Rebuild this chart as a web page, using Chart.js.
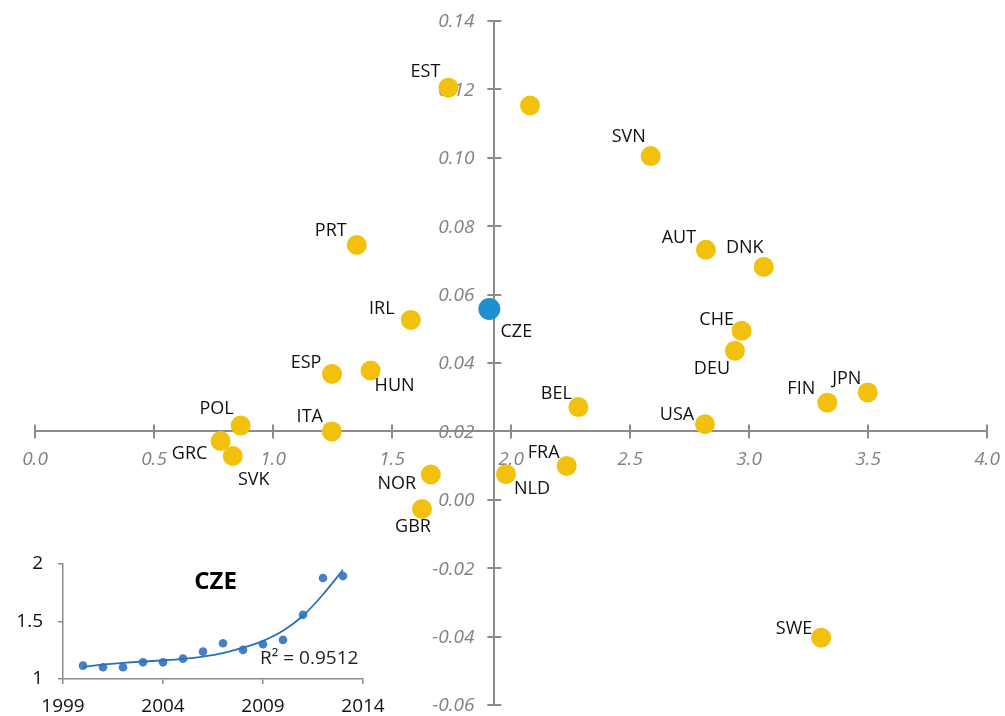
<!DOCTYPE html>
<html>
<head>
<meta charset="utf-8">
<script src="https://cdn.jsdelivr.net/npm/chart.js@4/dist/chart.umd.min.js"></script>
<style>
  html, body { margin: 0; padding: 0; background: #fff; }
  #wrap { position: relative; width: 1005px; height: 716px; overflow: hidden; }
  #main { position: absolute; left: 0; top: 0; }
  #inset { position: absolute; left: 0; top: 540px; }
</style>
</head>
<body>
<div id="wrap">
  <canvas id="main" width="1005" height="716"></canvas>
  <canvas id="inset" width="420" height="176"></canvas>
</div>
<script>
// ---- Country scatter: x and y values per country ----
const countries = ['EST', '', 'SVN', 'AUT', 'DNK', 'CHE', 'DEU', 'FIN', 'JPN', 'USA', 'BEL', 'FRA',
                   'NLD', 'PRT', 'IRL', 'ESP', 'HUN', 'POL', 'ITA', 'GRC', 'SVK', 'NOR', 'GBR', 'SWE'];
const xValues = [1.737, 2.080, 2.587, 2.819, 3.062, 2.969, 2.941, 3.329, 3.499, 2.815, 2.283, 2.234,
                 1.979, 1.352, 1.579, 1.248, 1.410, 0.864, 1.247, 0.780, 0.831, 1.663, 1.626, 3.303];
const yValues = [0.1205, 0.1153, 0.1005, 0.0731, 0.0681, 0.0494, 0.0436, 0.0284, 0.0314, 0.0221, 0.0271, 0.0099,
                 0.0075, 0.0745, 0.0526, 0.0368, 0.0378, 0.0217, 0.0200, 0.0172, 0.0128, 0.0074, -0.0027, -0.0403];

// Highlighted country
const focusName = 'CZE';
const focusX = 1.909;
const focusY = 0.0558;

// Axis ranges and crossing points
const xRange = [0, 4];
const xStep = 0.5;
const yRange = [-0.06, 0.14];
const yStep = 0.02;
const xAxisCrossesAtY = 0.02;
const yAxisCrossesAtX = 1.93;

// ---- CZE inset: yearly series and its trend ----
const czeYears  = [2000, 2001, 2002, 2003, 2004, 2005, 2006, 2007, 2008, 2009, 2010, 2011, 2012, 2013];
const czeValues = [1.116, 1.102, 1.102, 1.145, 1.145, 1.177, 1.238, 1.311, 1.253, 1.302, 1.340, 1.558, 1.878, 1.895];
const czeTrend  = [1.105, 1.125, 1.140, 1.152, 1.162, 1.175, 1.195, 1.225, 1.272, 1.332, 1.420, 1.550, 1.735, 1.950];
const czeRSquared = '0.9512';
const insetYearRange = [1999, 2014];
const insetValueRange = [1, 2];

// ---- Styling ----
const GOLD = '#F1C10E';
const BLUE = '#1E8FD0';
const AXIS = '#8C8C8C';
const TICK_TEXT = '#828282';
const FONT = "'Open Sans', 'DejaVu Sans', sans-serif";

// label placement relative to each marker (dx, dy in px)
const labelOffsets = {
  EST: [-23, -16], SVN: [-22, -19], AUT: [-27, -12], DNK: [-19, -19], CHE: [-25, -11],
  DEU: [-23, 18], FIN: [-26, -14], JPN: [-21, -14], USA: [-28, -9], BEL: [-22, -13],
  FRA: [-23, -13], NLD: [26, 15], PRT: [-26, -14], IRL: [-29, -11], ESP: [-26, -11],
  HUN: [24, 15], POL: [-24, -17], ITA: [-22, -15], GRC: [-31, 13], SVK: [21, 24],
  NOR: [-34, 9], GBR: [-9, 18], SWE: [-27, -9], CZE: [27, 23]
};

Chart.defaults.font.family = FONT;

function noScalePadding(scale) {
  scale.paddingLeft = 0; scale.paddingRight = 0;
  scale.paddingTop = 0; scale.paddingBottom = 0;
}

// Tick marks that cross both axis lines, plus the value labels of the vertical axis
const crossTicks = {
  id: 'crossTicks',
  beforeDatasetsDraw(chart) {
    const { ctx, scales: { x, y } } = chart;
    const axisY = y.getPixelForValue(xAxisCrossesAtY);
    const axisX = x.getPixelForValue(yAxisCrossesAtX);
    ctx.save();
    ctx.strokeStyle = AXIS;
    ctx.lineWidth = 2;
    ctx.beginPath();
    x.ticks.forEach(t => {
      const px = Math.round(x.getPixelForValue(t.value));
      ctx.moveTo(px, axisY - 7); ctx.lineTo(px, axisY + 7);
    });
    y.ticks.forEach(t => {
      const py = Math.round(y.getPixelForValue(t.value));
      ctx.moveTo(axisX - 7, py); ctx.lineTo(axisX + 7, py);
    });
    ctx.stroke();

    ctx.fillStyle = TICK_TEXT;
    ctx.font = 'italic 19px ' + FONT;
    ctx.textAlign = 'right';
    ctx.textBaseline = 'middle';
    y.ticks.forEach(t => {
      ctx.fillText(t.label, axisX - 20, y.getPixelForValue(t.value) + 1);
    });
    ctx.restore();
  }
};

// Country codes next to each marker
const countryLabels = {
  id: 'countryLabels',
  afterDatasetsDraw(chart) {
    const { ctx } = chart;
    ctx.save();
    ctx.font = '18px ' + FONT;
    ctx.fillStyle = '#111';
    ctx.textAlign = 'center';
    ctx.textBaseline = 'middle';
    chart.getDatasetMeta(0).data.forEach((el, i) => {
      const name = countries[i];
      if (!name) return;
      const off = labelOffsets[name] || [0, -16];
      ctx.fillText(name, el.x + off[0], el.y + off[1]);
    });
    chart.getDatasetMeta(1).data.forEach(el => {
      const off = labelOffsets[focusName];
      ctx.fillText(focusName, el.x + off[0], el.y + off[1]);
    });
    ctx.restore();
  }
};

new Chart(document.getElementById('main'), {
  type: 'scatter',
  data: {
    datasets: [
      {
        data: countries.map((c, i) => ({ x: xValues[i], y: yValues[i] })),
        backgroundColor: GOLD,
        borderWidth: 0,
        pointRadius: 10,
        pointHoverRadius: 10
      },
      {
        data: [{ x: focusX, y: focusY }],
        backgroundColor: BLUE,
        borderWidth: 0,
        pointRadius: 11,
        pointHoverRadius: 11
      }
    ]
  },
  options: {
    responsive: false,
    animation: false,
    events: [],
    layout: { padding: { left: 35, right: 18, top: 21, bottom: 10 } },
    plugins: { legend: { display: false }, tooltip: { enabled: false } },
    scales: {
      x: {
        type: 'linear',
        min: xRange[0], max: xRange[1],
        position: { y: xAxisCrossesAtY },
        afterFit: noScalePadding,
        grid: { display: true, drawOnChartArea: false, drawTicks: false },
        border: { color: AXIS, width: 2 },
        ticks: {
          stepSize: xStep, autoSkip: false, maxRotation: 0, padding: 17,
          color: TICK_TEXT,
          font: { family: FONT, size: 19, style: 'italic' },
          callback: v => v.toFixed(1)
        }
      },
      y: {
        type: 'linear',
        min: yRange[0], max: yRange[1],
        position: { x: yAxisCrossesAtX },
        afterFit: noScalePadding,
        grid: { display: true, drawOnChartArea: false, drawTicks: false },
        border: { color: AXIS, width: 2 },
        ticks: {
          display: false,
          stepSize: yStep, autoSkip: false,
          callback: v => (Math.abs(v) < 1e-9 ? 0 : v).toFixed(2)
        }
      }
    }
  },
  plugins: [crossTicks, countryLabels]
});

// Inset title and R² note, placed in data coordinates
const insetNotes = {
  id: 'insetNotes',
  afterDatasetsDraw(chart) {
    const { ctx, scales: { x, y } } = chart;
    ctx.save();
    ctx.fillStyle = '#000';
    ctx.textBaseline = 'middle';
    ctx.font = 'bold 24px ' + FONT;
    ctx.textAlign = 'center';
    ctx.fillText(focusName, x.getPixelForValue(2006.63), y.getPixelForValue(1.843));
    ctx.font = '19px ' + FONT;
    ctx.textAlign = 'left';
    ctx.fillStyle = '#222';
    ctx.fillText('R² = ' + czeRSquared, x.getPixelForValue(2008.85), y.getPixelForValue(1.18));
    ctx.restore();
  }
};

new Chart(document.getElementById('inset'), {
  type: 'scatter',
  data: {
    datasets: [
      {
        type: 'line',
        data: czeYears.map((yr, i) => ({ x: yr, y: czeTrend[i] })),
        borderColor: '#2373BF',
        borderWidth: 1.8,
        pointRadius: 0,
        fill: false,
        cubicInterpolationMode: 'monotone',
        order: 0
      },
      {
        data: czeYears.map((yr, i) => ({ x: yr, y: czeValues[i] })),
        backgroundColor: '#4A7EC4',
        borderWidth: 0,
        pointRadius: 4.3,
        pointHoverRadius: 4.3,
        order: 1
      }
    ]
  },
  options: {
    responsive: false,
    animation: false,
    events: [],
    layout: { padding: { left: 0, right: 57, top: 24, bottom: 0 } },
    plugins: { legend: { display: false }, tooltip: { enabled: false } },
    scales: {
      x: {
        type: 'linear',
        min: insetYearRange[0], max: insetYearRange[1],
        afterFit: s => { noScalePadding(s); s.height = 37; },
        grid: { display: true, drawOnChartArea: false, drawTicks: true, tickLength: 5, color: AXIS, lineWidth: 1.5 },
        border: { color: AXIS, width: 1.5 },
        ticks: {
          stepSize: 5, autoSkip: false, maxRotation: 0, padding: 11,
          color: '#111', font: { family: FONT, size: 19 },
          callback: v => String(v)
        }
      },
      y: {
        type: 'linear',
        min: insetValueRange[0], max: insetValueRange[1],
        afterFit: s => { noScalePadding(s); s.width = 63; },
        grid: { display: true, drawOnChartArea: false, drawTicks: true, tickLength: 5, color: AXIS, lineWidth: 1.5 },
        border: { color: AXIS, width: 1.5 },
        ticks: {
          stepSize: 0.5, autoSkip: false, padding: 15,
          color: '#111', font: { family: FONT, size: 19 },
          callback: v => String(v)
        }
      }
    }
  },
  plugins: [insetNotes]
});
</script>
</body>
</html>
